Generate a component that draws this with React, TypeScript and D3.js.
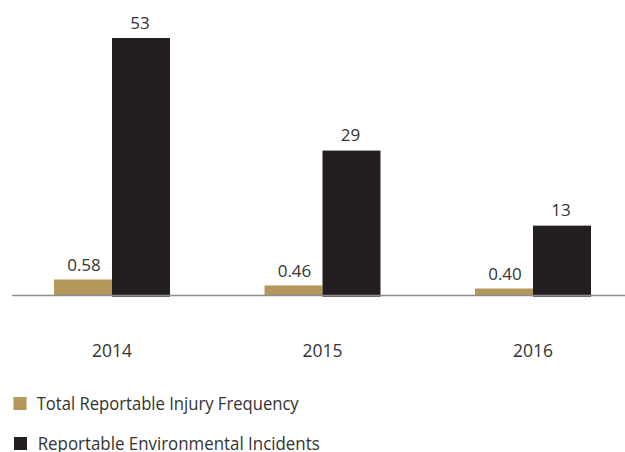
import React from "react";
import * as d3 from "d3";

const years = ["2014", "2015", "2016"];
const injuryFrequency = [0.58, 0.46, 0.4];
const environmentalIncidents = [53, 29, 13];
const injuryLabels = ["0.58", "0.46", "0.40"];
const incidentLabels = ["53", "29", "13"];
const legendItems = ["Total Reportable Injury Frequency", "Reportable Environmental Incidents"];
const legendWidths = [262, 282];

const W = 625;
const H = 452;
const GOLD = "#b4975a";
const BLACK = "#231f20";
const TEXT = "#333333";
const FONT = "'Open Sans', 'Noto Sans', sans-serif";

export default function App() {
  const baseY = 296;
  const barW = 58;
  const xCenter = d3.scalePoint<string>().domain(years).range([112, 533]);
  const yBlack = d3.scaleLinear().domain([-2, 53]).range([baseY, 38]);
  const yGold = d3.scaleLinear().domain([0.25, 0.6]).range([baseY, 278.5]);
  const colors = [GOLD, BLACK];

  return (
    <svg
      width={W}
      height={H}
      style={{ position: "absolute", left: 0, top: 0, background: "#fff" }}
      fontFamily={FONT}
    >
      {years.map((yr, i) => {
        const cx = xCenter(yr)!;
        const gy = yGold(injuryFrequency[i]);
        const by = yBlack(environmentalIncidents[i]);
        return (
          <g key={yr}>
            <rect x={cx - barW} y={gy} width={barW} height={baseY - gy} fill={GOLD} />
            <text x={cx - barW / 2 + 1} y={gy - 8.5} textAnchor="middle" fontSize={17} fill={TEXT}>
              {injuryLabels[i]}
            </text>
            <rect x={cx} y={by} width={barW} height={baseY + 0.7 - by} fill={BLACK} />
            <text x={cx + barW / 2 - 1} y={by - 9.5} textAnchor="middle" fontSize={17} fill={TEXT}>
              {incidentLabels[i]}
            </text>
            <text x={cx} y={357.3} textAnchor="middle" fontSize={17.5} fill={TEXT}>
              {yr}
            </text>
          </g>
        );
      })}
      <line x1={12} x2={W} y1={295.6} y2={295.6} stroke="#8c8c8c" strokeWidth={1.5} />
      {legendItems.map((name, i) => (
        <g key={name} transform={`translate(0, ${i * 40})`}>
          <rect x={13.5 + i * 0.5} y={397} width={13} height={13} fill={colors[i]} />
          <text
            x={36.7 + i}
            y={410.3}
            fontSize={17.5}
            fill={TEXT}
            textLength={legendWidths[i]}
            lengthAdjust="spacingAndGlyphs"
          >
            {name}
          </text>
        </g>
      ))}
    </svg>
  );
}
